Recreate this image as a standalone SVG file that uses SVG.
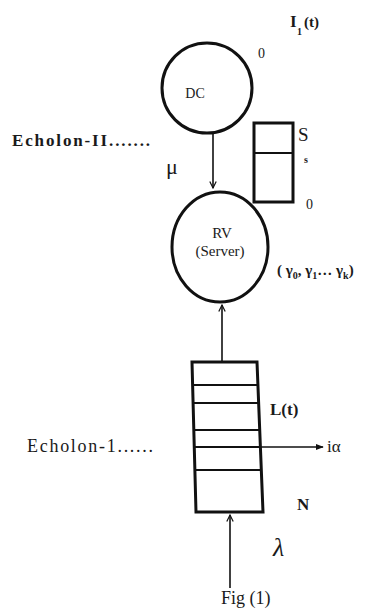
<svg xmlns="http://www.w3.org/2000/svg" width="373" height="614" viewBox="0 0 373 614">
<defs>
<marker id="ah" viewBox="0 0 10 10" refX="9" refY="5" markerWidth="8" markerHeight="8" orient="auto" markerUnits="userSpaceOnUse">
<path d="M1,1 L9,5 L1,9" fill="none" stroke="#111" stroke-width="1.5"/>
</marker>
<marker id="af" viewBox="0 0 10 10" refX="9" refY="5" markerWidth="8" markerHeight="8" orient="auto" markerUnits="userSpaceOnUse">
<path d="M0,1 L10,5 L0,9 z" fill="#111"/>
</marker>
</defs>
<style>
.sh{fill:#fff;stroke:#111;stroke-width:3}
.ln{stroke:#111;stroke-width:1.6;fill:none}
.ql{stroke:#111;stroke-width:2.2}
.b{font-weight:bold}
</style>
<rect width="373" height="614" fill="#fff"/>
<g id="connectors">
<line class="ln" x1="213" y1="134" x2="213" y2="188" marker-end="url(#ah)"/>
<line class="ln" x1="222" y1="361" x2="222" y2="305" marker-end="url(#ah)"/>
<line class="ln" x1="258" y1="447" x2="323" y2="447" marker-end="url(#af)"/>
<line class="ln" x1="230" y1="588" x2="230" y2="515" marker-end="url(#ah)"/>
</g>
<g font-family="'Liberation Serif', 'DejaVu Serif', serif" fill="#1a1a1a">
<g id="dc">
<ellipse class="sh" cx="207" cy="88" rx="45" ry="45"/>
<text x="195" y="98" font-size="14" text-anchor="middle">DC</text>
</g>
<g id="rv">
<ellipse class="sh" cx="220" cy="247" rx="48" ry="55"/>
<text x="222" y="238" font-size="15" text-anchor="middle">RV</text>
<text x="220" y="256" font-size="15" text-anchor="middle">(Server)</text>
</g>
<g id="stock">
<rect class="sh" x="254" y="123" width="39" height="79"/>
<line class="ql" x1="254" y1="153" x2="293" y2="153" stroke="#555"/>
</g>
<g id="queue">
<polygon class="sh" points="192,362 257,362 263,512 196,512"/>
<line class="ql" x1="193" y1="385" x2="258" y2="385"/>
<line class="ql" x1="194" y1="403" x2="259" y2="403"/>
<line class="ql" x1="194" y1="430" x2="260" y2="430"/>
<line class="ql" x1="195" y1="447" x2="260" y2="447"/>
<line class="ql" x1="195" y1="470" x2="261" y2="470"/>
</g>
<g id="labels">
<text x="290" y="27" font-size="17" class="b">I</text>
<text x="297" y="35" font-size="10" class="b">1</text>
<text x="304" y="27" font-size="15" class="b">(t)</text>
<text x="258" y="58" font-size="14">0</text>
<text x="12" y="146" font-size="17" class="b" textLength="138" lengthAdjust="spacing">Echolon-II.......</text>
<text x="166" y="174" font-size="22">μ</text>
<text x="298" y="141" font-size="19">S</text>
<text x="304" y="163" font-size="10" class="b">s</text>
<text x="306" y="209" font-size="14">0</text>
<text x="277" y="275" font-size="15" class="b">( γ<tspan font-size="10" dy="4">0</tspan><tspan dy="-4">, γ</tspan><tspan font-size="10" dy="4">1</tspan><tspan dy="-4">… γ</tspan><tspan font-size="10" dy="4">k</tspan><tspan dy="-4">)</tspan></text>
<text x="270" y="415" font-size="17" class="b">L(t)</text>
<text x="27" y="452" font-size="18" textLength="126" lengthAdjust="spacing">Echolon-1......</text>
<text x="327" y="452" font-size="17">iα</text>
<text x="297" y="510" font-size="17" class="b">N</text>
<text x="273" y="556" font-size="26" font-style="italic">λ</text>
<text x="221" y="604" font-size="18">Fig (1)</text>
</g>
</g>
</svg>
